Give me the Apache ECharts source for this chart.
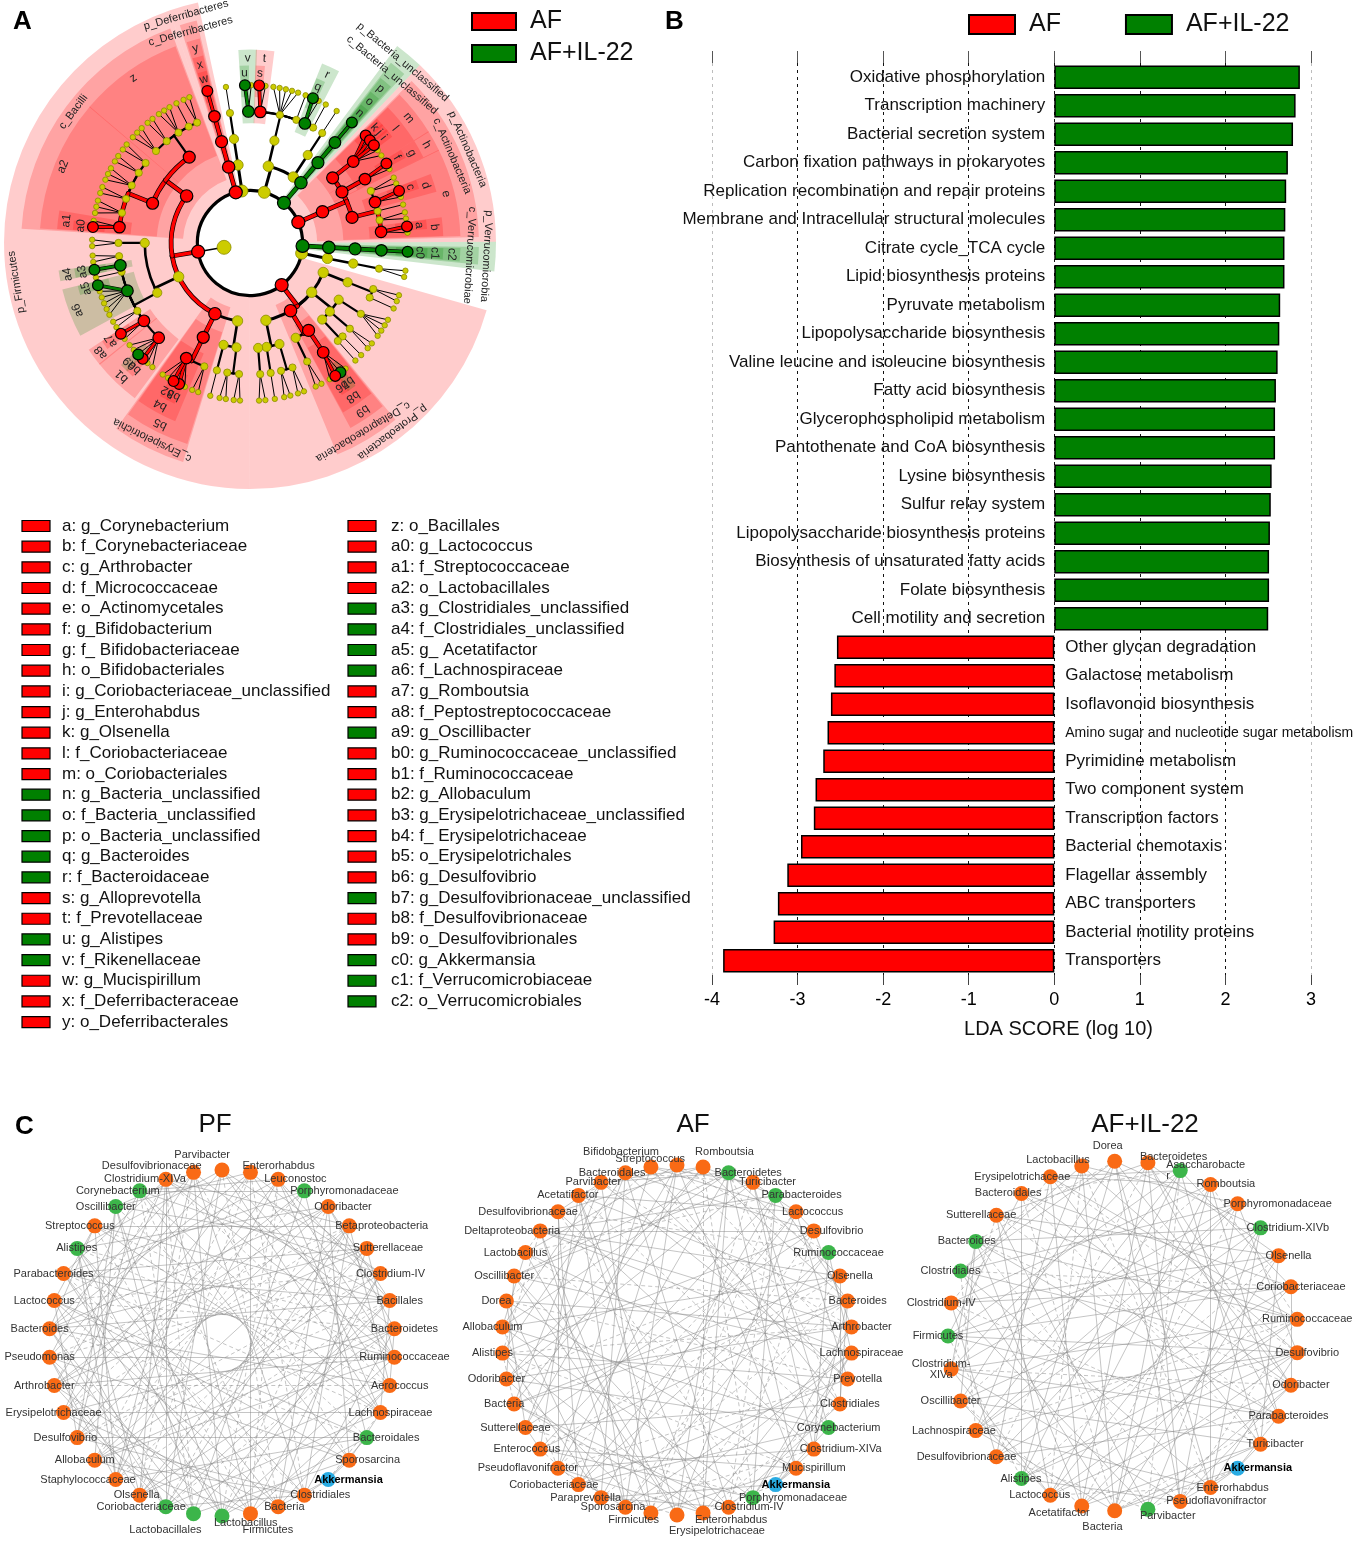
<!DOCTYPE html>
<html>
<head>
<meta charset="utf-8">
<title>LEfSe cladogram, LDA scores and co-occurrence networks</title>
<script src="https://cdn.jsdelivr.net/npm/echarts@6/dist/echarts.min.js"></script>
<style>
  html, body { margin: 0; padding: 0; background: #fff; }
  #chart { width: 1358px; height: 1542px; }
</style>
</head>
<body>
<div id="chart"></div>
<script>
(function () {
  'use strict';

  var FONT = '"Liberation Sans", Arial, sans-serif';
  var RED = '#ff0000', GREEN = '#008000';

  // ---------- panel B : LDA scores (negative = enriched in AF) ----------
  var pathways = [
    'Oxidative phosphorylation', 'Transcription machinery', 'Bacterial secretion system',
    'Carbon fixation pathways in prokaryotes', 'Replication recombination and repair proteins',
    'Membrane and Intracellular structural molecules', 'Citrate cycle_TCA cycle',
    'Lipid biosynthesis proteins', 'Pyruvate metabolism', 'Lipopolysaccharide biosynthesis',
    'Valine leucine and isoleucine biosynthesis', 'Fatty acid biosynthesis',
    'Glycerophospholipid metabolism', 'Pantothenate and CoA biosynthesis', 'Lysine biosynthesis',
    'Sulfur relay system', 'Lipopolysaccharide biosynthesis proteins',
    'Biosynthesis of unsaturated fatty acids', 'Folate biosynthesis', 'Cell motility and secretion',
    'Other glycan degradation', 'Galactose metabolism', 'Isoflavonoid biosynthesis',
    'Amino sugar and nucleotide sugar metabolism', 'Pyrimidine metabolism', 'Two component system',
    'Transcription factors', 'Bacterial chemotaxis', 'Flagellar assembly', 'ABC transporters',
    'Bacterial motility proteins', 'Transporters'
  ];
  var ldaScores = [
    2.87, 2.82, 2.79, 2.73, 2.71, 2.70, 2.69, 2.69, 2.64, 2.63, 2.61, 2.59, 2.58, 2.58, 2.54,
    2.53, 2.52, 2.51, 2.51, 2.50,
    -2.54, -2.57, -2.61, -2.65, -2.70, -2.79, -2.81, -2.96, -3.12, -3.23, -3.28, -3.87
  ];
  var ldaTicks = [-4, 3, 1]; // min, max, step

  // ---------- panel A : cladogram (code, name, status r/g/y, children) ----------
  function Y(k) { return ['', '', 'y', k]; }
  var cladeTree = ['', 'k_Bacteria', 'y', [
    ['', 'p_Bacteroidetes', 'y', [
      ['', 'c_Bacteroidia', 'y', [
        ['', 'o_Bacteroidales', 'y', [
          ['v', 'f_Rikenellaceae', 'g', [['u', 'g_Alistipes', 'g'], Y()]],
          ['t', 'f_Prevotellaceae', 'r', [['s', 'g_Alloprevotella', 'r'], Y()]],
          Y(5), Y(1),
          ['r', 'f_Bacteroidaceae', 'g', [['q', 'g_Bacteroides', 'g'], Y()]],
          Y(1)
        ]]
      ]],
      Y([Y([Y(1)])])
    ]],
    ['', 'p_Bacteria_unclassified', 'g', [
      ['', 'c_Bacteria_unclassified', 'g', [
        ['p', 'o_Bacteria_unclassified', 'g', [
          ['o', 'f_Bacteria_unclassified', 'g', [['n', 'g_Bacteria_unclassified', 'g']]]
        ]]
      ]]
    ]],
    ['', 'p_Actinobacteria', 'r', [
      ['', 'c_Actinobacteria', 'r', [
        ['m', 'o_Coriobacteriales', 'r', [
          ['l', 'f_Coriobacteriaceae', 'r', [
            ['k', 'g_Olsenella', 'r'], ['j', 'g_Enterohabdus', 'r'],
            ['i', 'g_Coriobacteriaceae_unclassified', 'r'], Y(), Y()
          ]]
        ]],
        ['h', 'o_Bifidobacteriales', 'r', [
          ['g', 'f_ Bifidobacteriaceae', 'r', [['f', 'g_Bifidobacterium', 'r'], Y()]]
        ]],
        ['e', 'o_Actinomycetales', 'r', [
          Y(2),
          ['d', 'f_Micrococcaceae', 'r', [['c', 'g_Arthrobacter', 'r'], Y()]],
          Y(1), Y(2),
          ['b', 'f_Corynebacteriaceae', 'r', [['a', 'g_Corynebacterium', 'r'], Y()]]
        ]]
      ]]
    ]],
    ['', 'p_Verrucomicrobia', 'g', [
      ['', 'c_Verrucomicrobiae', 'g', [
        ['c2', 'o_Verrucomicrobiales', 'g', [
          ['c1', 'f_Verrucomicrobiaceae', 'g', [['c0', 'g_Akkermansia', 'g']]]
        ]]
      ]]
    ]],
    Y([Y([Y([Y(2)])])]),
    ['', 'p_Proteobacteria', 'r', [
      Y([Y([Y(2), Y(1)])]),
      Y([Y([Y(4)]), Y([Y(2)]), Y([Y(1), Y(1)])]),
      ['', 'c_Deltaproteobacteria', 'r', [
        ['b9', 'o_Desulfovibrionales', 'r', [
          ['b8', 'f_Desulfovibrionaceae', 'r', [
            Y(), ['b7', 'g_Desulfovibrionaceae_unclassified', 'g'], ['b6', 'g_Desulfovibrio', 'r'], Y()
          ]]
        ]],
        Y([Y(2)])
      ]],
      Y([Y([Y(2), Y(2)]), Y([Y(1)]), Y([Y(2)])])
    ]],
    ['', 'p_Firmicutes', 'r', [
      Y([Y([Y(2), Y(2)]), Y([Y(1)])]),
      ['', 'c_Erysipelotrichia', 'r', [
        ['b5', 'o_Erysipelotrichales', 'r', [
          Y(2),
          ['b4', 'f_ Erysipelotrichaceae', 'r', [
            Y(), ['b3', 'g_Erysipelotrichaceae_unclassified', 'r'], ['b2', 'g_Allobaculum', 'r'], Y(), Y()
          ]]
        ]]
      ]],
      Y([
        Y([
          ['b1', 'f_Ruminococcaceae', 'r', [
            Y(), Y(), ['b0', 'g_Ruminococcaceae_unclassified', 'r'], ['a9', 'g_Oscillibacter', 'g'], Y(), Y()
          ]],
          ['a8', 'f_Peptostreptococcaceae', 'r', [Y(), ['a7', 'g_Romboutsia', 'r']]],
          Y(2),
          ['a6', 'f_Lachnospiraceae', 'g', [Y(), Y(), Y(), Y(), Y(), ['a5', 'g_ Acetatifactor', 'g']]],
          Y(1),
          ['a4', 'f_Clostridiales_unclassified', 'g', [['a3', 'g_Clostridiales_unclassified', 'g']]],
          Y(2)
        ]),
        Y([Y(2)])
      ]),
      ['', 'c_Bacilli', 'r', [
        ['a2', 'o_Lactobacillales', 'r', [
          ['a1', 'f_Streptococcaceae', 'r', [['a0', 'g_Lactococcus', 'r'], Y()]],
          Y(3), Y(2), Y(3), Y(2), Y(2)
        ]],
        ['z', 'o_Bacillales', 'r', [Y(3), Y(2), Y(3), Y(1), Y(2)]]
      ]]
    ]],
    ['', 'p_Deferribacteres', 'r', [
      ['', 'c_Deferribacteres', 'r', [
        ['y', 'o_Deferribacterales', 'r', [
          ['x', 'f_Deferribacteraceae', 'r', [['w', 'g_Mucispirillum', 'r']]]
        ]]
      ]]
    ]],
    Y([Y([Y([Y(1)])])])
  ]];

  // ---------- panel C : co-occurrence networks (o = orange, g = green, b = blue) ----------
  var pfNames = ['Ruminococcaceae', 'Aerococcus', 'Lachnospiraceae', 'Bacteroidales', 'Sporosarcina',
    'Akkermansia', 'Clostridiales', 'Bacteria', 'Firmicutes', 'Lactobacillus', 'Lactobacillales',
    'Coriobacteriaceae', 'Olsenella', 'Staphylococcaceae', 'Allobaculum', 'Desulfovibrio',
    'Erysipelotrichaceae', 'Arthrobacter', 'Pseudomonas', 'Bacteroides', 'Lactococcus',
    'Parabacteroides', 'Alistipes', 'Streptococcus', 'Oscillibacter', 'Corynebacterium',
    'Clostridium-XIVa', 'Desulfovibrionaceae', 'Parvibacter', 'Enterorhabdus', 'Leuconostoc',
    'Porphyromonadaceae', 'Odoribacter', 'Betaproteobacteria', 'Sutterellaceae', 'Clostridium-IV',
    'Bacillales', 'Bacteroidetes'];
  var pfKinds = ['o', 'o', 'o', 'g', 'o', 'b', 'o', 'o', 'o', 'g', 'g', 'g', 'o', 'o', 'o', 'o', 'o',
    'o', 'o', 'o', 'o', 'o', 'g', 'o', 'g', 'g', 'o', 'o', 'o', 'o', 'o', 'g', 'o', 'o', 'o', 'o', 'o', 'o'];
  var pfLinks = [
    [9, 17, -23, 30, 14], [8, 19, -26, 33, 12], [11, -21, 28, 36, 16], [5, 13, -24, 31, 20],
    [5, 10, 18, -27, 2], [6, 7, -2], [15, 22, -29, 37, 11], [16, -25, 32, 20, 1],
    [14, 21, -30, 35, 26], [18, 27, -33, 3, 22], [19, -26, 36, 31, 24], [20, 28, -37, 17, 33],
    [22, -29, 34, 1, 26], [23, 30, -36, 27, 18], [24, -31, 37, 33, 6], [25, 32, -35, 20, 3],
    [26, -33, 2, 29, 10], [27, 34, -1, 31, 8], [28, -35, 0, 25, 12], [29, 36, -3, 11, 32],
    [30, -37, 4, 23, 15], [31, 0, -6, 34, 9], [32, -1, 7, 13, 28], [33, 2, -8, 36, 19],
    [34, -3, 9, 15, 27], [35, 4, -10, 2, 30], [36, 11, 0, -17, 21], [37, 6, -12, 19, 4],
    [0, -7, 13, 35], [1, 8, -14, 24], [2, -9, 15, 36], [3, 10, -16, 25], [4, -11, 17, 37],
    [6, 12, -18, 26], [7, -13, 19, 0], [9, 14, -20, 29], [11, -15, 21, 32], [12, 16, -22, 1]
  ];

  var afNames = ['Lachnospiraceae', 'Prevotella', 'Clostridiales', 'Corynebacterium', 'Clostridium-XIVa',
    'Mucispirillum', 'Akkermansia', 'Porphyromonadaceae', 'Clostridium-IV', 'Enterorhabdus',
    'Erysipelotrichaceae', 'Firmicutes', 'Sporosarcina', 'Paraprevotella', 'Coriobacteriaceae',
    'Pseudoflavonifractor', 'Enterococcus', 'Sutterellaceae', 'Bacteria', 'Odoribacter', 'Alistipes',
    'Allobaculum', 'Dorea', 'Oscillibacter', 'Lactobacillus', 'Deltaproteobacteria',
    'Desulfovibrionaceae', 'Acetatifactor', 'Parvibacter', 'Bacteroidales', 'Bifidobacterium',
    'Streptococcus', 'Romboutsia', 'Bacteroidetes', 'Turicibacter', 'Parabacteroides', 'Lactococcus',
    'Desulfovibrio', 'Ruminococcaceae', 'Olsenella', 'Bacteroides', 'Arthrobacter'];
  var afKinds = ['o', 'o', 'o', 'g', 'o', 'o', 'b', 'g', 'o', 'o', 'o', 'o', 'o', 'o', 'o', 'o', 'o',
    'o', 'o', 'o', 'o', 'o', 'o', 'o', 'o', 'o', 'o', 'o', 'o', 'o', 'o', 'o', 'o', 'g', 'o', 'g', 'o',
    'o', 'g', 'o', 'o', 'o'];
  var afLinks = [
    [12, 25, -31, 7], [14, -22, 36, 28], [17, 30, -9, 40], [6, 19, -27, 34], [6, 15, -24, 38],
    [6, 11, -20, 33], [0, -9, 13], [16, -26, 35, 21], [18, 29, -37, 2], [20, -32, 41, 15],
    [23, 33, -39, 27], [25, -35, 0, 19], [27, 38, -4, 31], [29, -40, 8, 22], [31, 3, -10, 36],
    [33, -1, 12, 26], [35, 5, -14, 40], [37, -7, 16, 29], [39, 9, -20, 32], [41, -11, 23, 34],
    [1, 13, -25, 37], [3, -15, 28, 39], [5, 17, -30, 41], [8, -19, 33, 0], [10, 21, -35, 2],
    [12, -24, 37, 39], [14, 28, -38, 4], [16, -30, 40, 9], [18, 32, -41, 11], [20, -34, 1, 13],
    [22, 36, -3, 15], [24, -38, 5, 17], [26, 40, -7, 19], [28, -2, 9, 21], [30, 4, -11, 23],
    [32, -8, 13, 25], [34, 10, -15, 27], [36, -12, 17, 29], [0, 14, -19, 31], [2, -16, 21, 33],
    [4, 18, -23, 35], [7, -20, 25, 37]
  ];

  var ilNames = ['Desulfovibrio', 'Odoribacter', 'Parabacteroides', 'Turicibacter', 'Akkermansia',
    'Enterorhabdus', 'Pseudoflavonifractor', 'Parvibacter', 'Bacteria', 'Acetatifactor', 'Lactococcus',
    'Alistipes', 'Desulfovibrionaceae', 'Lachnospiraceae', 'Oscillibacter', 'Clostridium-\nXIVa',
    'Firmicutes', 'Clostridium-IV', 'Clostridiales', 'Bacteroides', 'Sutterellaceae', 'Bacteroidales',
    'Erysipelotrichaceae', 'Lactobacillus', 'Dorea', 'Bacteroidetes', 'Asaccharobacte\nr', 'Romboutsia',
    'Porphyromonadaceae', 'Clostridium-XIVb', 'Olsenella', 'Coriobacteriaceae', 'Ruminococcaceae'];
  var ilKinds = ['o', 'o', 'o', 'o', 'b', 'o', 'o', 'g', 'o', 'o', 'o', 'g', 'o', 'o', 'o', 'o', 'g',
    'o', 'g', 'g', 'o', 'o', 'o', 'o', 'o', 'o', 'g', 'o', 'o', 'g', 'o', 'o', 'o'];
  var ilLinks = [
    [9, 16, -22, 28, 13], [10, -19, 25, 31, 6], [4, 12, -20, 27, 15], [4, 14, -21, 30, 8],
    [5, 6, -7, 8], [13, -23, 29, 18, 0], [15, 24, -32, 11], [17, -26, 1, 20], [18, 27, -2, 23],
    [19, -28, 3, 25, 31], [20, 29, -5, 14], [21, -30, 6, 26, 0], [22, 31, -7, 17], [23, -32, 8, 28],
    [24, 0, -9, 30], [25, -1, 10, 19, 32], [26, 2, -11, 29], [27, -3, 12, 31], [28, 5, -13, 0, 24],
    [29, -6, 14, 2], [30, 7, -15, 32], [31, -8, 16, 1], [32, 9, -17, 3, 26], [0, -10, 18, 28],
    [1, 11, -19, 5], [2, -12, 20, 6, 30], [3, 13, -21, 8], [5, -14, 22, 10], [6, 15, -23, 12],
    [7, -16, 24, 13], [8, 17, -25, 14], [9, -18, 26, 16], [10, 19, -27, 11]
  ];

  // ================= cladogram layout (leaf slots + clade separation) =================
  var levelGap = [0, 2, 1, 0.5, 0.25, 0];
  var bandPad = [0, 1.0, 0.45, 0.3, 0.2, 0.15];
  var bandOuter = [0, 9.35, 8.7, 8.0, 7.35, 6.75];
  var labelRing = [0, 9.0, 8.36, 7.68, 7.03, 6.46];

  var clades = [];
  var cursor = levelGap[1] / 2;
  function place(n, depth) {
    var k = n[3], kids = [];
    if (typeof k === 'number') { for (var i = 0; i < k; i++) kids.push(Y()); }
    else if (k) { kids = k; }
    var rec = { code: n[0], name: n[1], st: n[2], depth: depth, kids: [] };
    if (!kids.length) {
      rec.first = cursor; rec.last = cursor; cursor += 1;
    } else {
      kids.forEach(function (c, i) {
        if (i) cursor += levelGap[depth + 1];
        rec.kids.push(place(c, depth + 1));
      });
      rec.first = rec.kids[0].first;
      rec.last = rec.kids[rec.kids.length - 1].last;
    }
    rec.ang = (rec.first + rec.last + 1) / 2;
    clades.push(rec);
    return rec;
  }
  var cladeRoot = place(cladeTree, 0);
  var angleTotal = cursor + levelGap[1] / 2;
  cladeRoot.ang = cladeRoot.kids.reduce(function (a, b) {
    return (b.last - b.first > a.last - a.first) ? b : a;
  }).ang;

  var bandFill = { r: 'rgba(255,0,0,0.2)', g: 'rgba(0,128,0,0.2)' };
  var lineColor = { r: RED, g: GREEN };

  var sig = clades.filter(function (c) { return c.st !== 'y' && c.depth > 0; });
  var cladeBands = sig.slice().sort(function (a, b) { return a.depth - b.depth; }).map(function (c) {
    return {
      r0: c.depth === 1 ? 2 : c.depth + 1 - 0.45, r1: bandOuter[c.depth],
      a0: c.first - bandPad[c.depth], a1: c.last + 1 + bandPad[c.depth], st: c.st
    };
  });
  var cladeLabels = sig.map(function (c) {
    return { r: labelRing[c.depth], a: (c.first + c.last + 1) / 2, text: c.code || c.name, big: !c.code };
  });

  var blackW = [3.2, 3, 2.6, 2.2, 1];
  var colorW = [3.4, 3.4, 3.4, 3.2, 2.4];
  var cladeEdges = [];
  clades.forEach(function (n) {
    if (!n.kids.length) return;
    var d = n.depth, rIn = d + 1, rOut = d + 2;
    var isSig = n.st !== 'y';
    if (d === 0) {
      cladeEdges.push({ r1: rIn, a1: n.ang, r2: rOut, a2: n.ang, col: '', w: 1.5 });
      cladeEdges.push({ arc: true, r1: rOut, a1: 0, a2: angleTotal, col: '', w: blackW[0] });
      return;
    }
    if (d <= 3) {
      var stemCol = isSig && n.kids.some(function (k) { return k.st === n.st; }) ? n.st : '';
      cladeEdges.push({ r1: rIn, a1: n.ang, r2: rOut, a2: n.ang, col: stemCol, w: stemCol ? colorW[d] : blackW[d] });
    }
    n.kids.forEach(function (k) {
      var col = isSig && k.st === n.st ? n.st : '';
      var w = col ? colorW[d] : blackW[d];
      if (d <= 3) {
        if (Math.abs(k.ang - n.ang) > 1e-6) {
          cladeEdges.push({ arc: true, r1: rOut, a1: Math.min(n.ang, k.ang), a2: Math.max(n.ang, k.ang), col: col, w: w });
        }
      } else {
        cladeEdges.push({ r1: rIn, a1: n.ang, r2: rOut, a2: k.ang, col: col, w: w });
      }
    });
  });
  cladeEdges.sort(function (a, b) { return (a.col ? 1 : 0) - (b.col ? 1 : 0); });

  var sigR = [7, 6.5, 6.2, 6, 5.8, 5.4];
  var yelR = [7, 6, 5.2, 4.6, 3.6, 2.7];
  var cladeNodes = clades.slice().sort(function (a, b) {
    return (a.st === 'y' ? 0 : 1) - (b.st === 'y' ? 0 : 1);
  }).map(function (c) {
    return { r: c.depth + 1, a: c.ang, st: c.st, size: c.st === 'y' ? yelR[c.depth] : sigR[c.depth] };
  });

  var legendEntries = clades.filter(function (c) { return c.code; }).sort(function (a, b) {
    return a.code.length - b.code.length || (a.code < b.code ? -1 : 1);
  });

  // ---------- polar helpers ----------
  function polarInfo(api, r, a) {
    var c = api.coord([0, a]);
    var p = api.coord([r, a]);
    var dx = p[0] - c[0], dy = p[1] - c[1];
    return { cx: c[0], cy: c[1], x: p[0], y: p[1], r: Math.sqrt(dx * dx + dy * dy), t: Math.atan2(dy, dx) };
  }
  function sweep(api, a0, a1) {
    var s = polarInfo(api, 1, a0).t, e = polarInfo(api, 1, a1).t;
    if (a1 - a0 >= angleTotal - 1e-6) return [s, s + 2 * Math.PI];
    while (e < s) e += 2 * Math.PI;
    while (e - s > 2 * Math.PI) e -= 2 * Math.PI;
    return [s, e];
  }

  function renderBand(params, api) {
    var b = cladeBands[params.dataIndex];
    var sw = sweep(api, b.a0, b.a1);
    var o = polarInfo(api, b.r1, b.a0), i = polarInfo(api, b.r0, b.a0);
    return {
      type: 'sector',
      shape: { cx: o.cx, cy: o.cy, r0: i.r, r: o.r, startAngle: sw[0], endAngle: sw[1], clockwise: true },
      style: { fill: bandFill[b.st] }
    };
  }

  function edgeShape(api, e, color, width) {
    var style = { stroke: color, lineWidth: width, fill: 'none', lineCap: 'round' };
    if (e.arc) {
      var sw = sweep(api, e.a1, e.a2);
      var g = polarInfo(api, e.r1, e.a1);
      return { type: 'arc', shape: { cx: g.cx, cy: g.cy, r: g.r, startAngle: sw[0], endAngle: sw[1], clockwise: true }, style: style };
    }
    var p1 = api.coord([e.r1, e.a1]), p2 = api.coord([e.r2, e.a2]);
    return { type: 'line', shape: { x1: p1[0], y1: p1[1], x2: p2[0], y2: p2[1] }, style: style };
  }
  function renderEdge(params, api) {
    var e = cladeEdges[params.dataIndex];
    if (!e.col) return edgeShape(api, e, '#000', e.w);
    return { type: 'group', children: [edgeShape(api, e, '#000', e.w + 1.4), edgeShape(api, e, lineColor[e.col], e.w)] };
  }

  function renderNode(params, api) {
    var n = cladeNodes[params.dataIndex];
    var p = api.coord([n.r, n.a]);
    var style = n.st === 'y'
      ? { fill: '#cccc00', stroke: '#8c8c00', lineWidth: 0.8 }
      : { fill: lineColor[n.st], stroke: '#000', lineWidth: 1.2 };
    return { type: 'circle', shape: { cx: p[0], cy: p[1], r: n.size }, style: style };
  }

  function renderLabel(params, api) {
    var l = cladeLabels[params.dataIndex];
    var g = polarInfo(api, l.r, l.a);
    return {
      type: 'text', x: g.x, y: g.y, rotation: -(g.t + Math.PI / 2),
      style: {
        text: l.text, align: 'center', verticalAlign: 'middle', fill: '#222',
        fontSize: l.big ? 11 : 12, fontFamily: FONT
      }
    };
  }

  function polarSeries(list, render, z) {
    return {
      type: 'custom', coordinateSystem: 'polar', polarIndex: 0, silent: true, z: z,
      data: list.map(function (d) {
        return [d.r !== undefined ? d.r : (d.r0 !== undefined ? d.r0 : d.r1),
                d.a !== undefined ? d.a : (d.a0 !== undefined ? d.a0 : d.a1)];
      }),
      renderItem: render
    };
  }

  // ---------- networks ----------
  var NODE_COLORS = { o: '#f96a15', g: '#3cb54a', b: '#29abe2' };
  function networkSeries(names, kinds, adj, box) {
    var count = names.length;
    var nodes = names.map(function (n, i) {
      var item = { name: n, itemStyle: { color: NODE_COLORS[kinds[i]] } };
      // circular layout puts node i at this angle; nudge the label away from its neighbours
      var t = (i + 0.5) / count * 2 * Math.PI, c = Math.cos(t), s = Math.sin(t);
      var lab = {};
      if (c < -0.85) { lab.offset = [-10, 0]; }
      else if (c > 0.85) { lab.offset = [10, 0]; }
      else if (c < -0.25) { lab.align = 'right'; lab.offset = [20, 0]; }
      else if (c > 0.25) { lab.align = 'left'; lab.offset = [-14, 0]; }
      else {
        var dy = s > 0 ? (i % 2 ? 7 : 16) : (i % 2 ? -6 : -15);
        lab.align = c < 0 ? 'right' : 'left';
        lab.offset = [c < 0 ? 8 : -8, dy];
      }
      if (kinds[i] === 'b') { lab.fontWeight = 'bold'; lab.color = '#000'; }
      item.label = lab;
      return item;
    });
    var seen = {}, links = [];
    adj.forEach(function (list, i) {
      list.forEach(function (t) {
        var j = Math.abs(t);
        if (j === i) return;
        var key = Math.min(i, j) + '-' + Math.max(i, j);
        if (seen[key]) return;
        seen[key] = 1;
        var link = { source: i, target: j };
        if (t < 0) link.lineStyle = { type: [4, 3] };
        links.push(link);
      });
    });
    return {
      type: 'graph', layout: 'circular', circular: { rotateLabel: false },
      left: box[0], top: box[1], width: box[2], height: box[3],
      roam: false, silent: true, symbolSize: 15,
      itemStyle: { borderWidth: 0 },
      label: { show: true, position: 'inside', fontSize: 11, color: '#333', fontFamily: FONT },
      lineStyle: { color: '#858585', width: 0.8, opacity: 0.6, curveness: 0 },
      data: nodes, links: links
    };
  }

  // ---------- cladogram legend list ----------
  var graphics = [];
  legendEntries.forEach(function (c, i) {
    var col = i < 25 ? 0 : 1, row = col ? i - 25 : i;
    var y = 526 + row * 20.67;
    var rx = col ? 348 : 22, tx = col ? 391 : 62;
    graphics.push({
      type: 'rect', x: rx, y: y - 5.5, shape: { x: 0, y: 0, width: 28, height: 11 },
      style: { fill: lineColor[c.st], stroke: '#000', lineWidth: 1.2 }, silent: true
    });
    graphics.push({
      type: 'text', x: tx, y: y,
      style: { text: c.code + ': ' + c.name, fill: '#111', fontSize: 17, fontFamily: FONT, verticalAlign: 'middle' },
      silent: true
    });
  });

  var chart = echarts.init(document.getElementById('chart'));
  var option = {
    animation: false,
    backgroundColor: '#fff',
    textStyle: { fontFamily: FONT },
    title: [
      { text: 'A', left: 8, top: 4, textStyle: { fontSize: 26, fontWeight: 'bold', color: '#000' } },
      { text: 'B', left: 660, top: 4, textStyle: { fontSize: 26, fontWeight: 'bold', color: '#000' } },
      { text: 'C', left: 10, top: 1109, textStyle: { fontSize: 26, fontWeight: 'bold', color: '#000' } },
      { text: 'PF', left: 210, top: 1107, textAlign: 'center', textStyle: { fontSize: 26, fontWeight: 'normal', color: '#111' } },
      { text: 'AF', left: 688, top: 1107, textAlign: 'center', textStyle: { fontSize: 26, fontWeight: 'normal', color: '#111' } },
      { text: 'AF+IL-22', left: 1140, top: 1107, textAlign: 'center', textStyle: { fontSize: 26, fontWeight: 'normal', color: '#111' } }
    ],
    legend: [
      {
        data: ['AF', 'AF+IL-22'], left: 968, top: 12, padding: 0, orient: 'horizontal', selectedMode: false,
        icon: 'rect', itemWidth: 46, itemHeight: 19, itemGap: 64,
        itemStyle: { borderColor: '#000', borderWidth: 2 },
        textStyle: { fontSize: 25, color: '#111', padding: [0, 0, 0, 9] }
      },
      {
        data: ['AF', 'AF+IL-22'], left: 471, top: 9, padding: 0, orient: 'vertical', selectedMode: false,
        icon: 'rect', itemWidth: 44, itemHeight: 17, itemGap: 7,
        itemStyle: { borderColor: '#000', borderWidth: 2 },
        textStyle: { fontSize: 25, color: '#111', padding: [0, 0, 0, 9] }
      }
    ],
    grid: { left: 712, right: 47, top: 63, bottom: 567, containLabel: false, outerBoundsMode: 'none' },
    xAxis: [
      {
        type: 'value', position: 'bottom', min: ldaTicks[0], max: ldaTicks[1], interval: ldaTicks[2],
        axisLine: { show: false },
        axisTick: { show: true, length: 10, lineStyle: { color: '#444' } },
        axisLabel: { fontSize: 18, color: '#000', margin: 16 },
        splitLine: {
          show: true,
          lineStyle: { type: [3, 4], width: 1, color: ['#bdbdbd', '#111', '#111', '#111', '#111', '#111', '#111', '#bdbdbd'] }
        },
        name: 'LDA SCORE (log 10)', nameLocation: 'middle', nameGap: 44,
        nameTextStyle: { fontSize: 20, color: '#111', padding: [0, 0, 0, 94] }
      },
      {
        type: 'value', position: 'top', min: ldaTicks[0], max: ldaTicks[1], interval: ldaTicks[2],
        axisLine: { show: false },
        axisTick: { show: true, length: 12, lineStyle: { color: '#555' } },
        axisLabel: { show: false }, splitLine: { show: false }
      }
    ],
    yAxis: [{
      type: 'category', data: pathways, inverse: true,
      axisLine: { show: false }, axisTick: { show: false }, axisLabel: { show: false }
    }],
    polar: { center: [250, 243], radius: 246 },
    angleAxis: { type: 'value', min: 0, max: angleTotal, startAngle: 93 + 360 / angleTotal, clockwise: true, show: false },
    radiusAxis: { type: 'value', min: 0, max: 9.35, show: false },
    graphic: graphics,
    series: [
      {
        name: 'AF', type: 'bar', xAxisIndex: 0, yAxisIndex: 0,
        data: ldaScores.map(function (v) { return v < 0 ? v : '-'; }),
        barGap: '-100%', barCategoryGap: '18%',
        itemStyle: { color: RED, borderColor: '#000', borderWidth: 1.5 },
        label: {
          show: true, position: 'right', distance: 11, color: '#111', fontSize: 17,
          formatter: function (p) { return p.name.length > 40 ? '{s|' + p.name + '}' : p.name; },
          rich: { s: { fontSize: 14, color: '#111' } }
        }
      },
      {
        name: 'AF+IL-22', type: 'bar', xAxisIndex: 0, yAxisIndex: 0,
        data: ldaScores.map(function (v) { return v > 0 ? v : '-'; }),
        barGap: '-100%', barCategoryGap: '18%',
        itemStyle: { color: GREEN, borderColor: '#000', borderWidth: 1.5 },
        label: { show: true, position: 'left', distance: 9, color: '#111', fontSize: 17, formatter: '{b}' }
      },
      polarSeries(cladeBands, renderBand, 1),
      polarSeries(cladeEdges, renderEdge, 2),
      polarSeries(cladeNodes, renderNode, 3),
      polarSeries(cladeLabels, renderLabel, 4),
      networkSeries(pfNames, pfKinds, pfLinks, [49, 1170, 346, 346]),
      networkSeries(afNames, afKinds, afLinks, [502, 1165, 350, 350]),
      networkSeries(ilNames, ilKinds, ilLinks, [948, 1161, 350, 350])
    ]
  };
  chart.setOption(option);
})();
</script>
</body>
</html>
